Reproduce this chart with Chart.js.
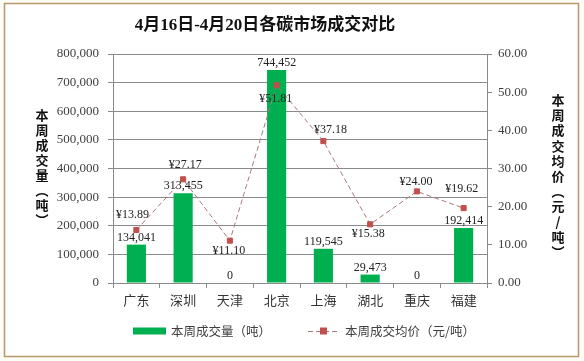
<!DOCTYPE html>
<html>
<head>
<meta charset="utf-8">
<script src="https://cdn.jsdelivr.net/npm/chart.js@4/dist/chart.umd.min.js"></script>
<style>
html,body{margin:0;padding:0;background:#fff;}
#wrap{width:584px;height:361px;position:relative;}
</style>
</head>
<body>
<div id="wrap"><canvas id="c" width="584" height="361"></canvas></div>
<script>
const titleText = '4月16日-4月20日各碳市场成交对比';
const categories = ['广东','深圳','天津','北京','上海','湖北','重庆','福建'];
const volumeLabel = '本周成交量（吨）';
const priceLabel = '本周成交均价（元/吨）';
const volumeValues = [134041, 313455, 0, 744452, 119545, 29473, 0, 192414];
const priceValues = [13.89, 27.17, 11.10, 51.81, 37.18, 15.38, 24.00, 19.62];
const leftAxisTitleChars = ['本','周','成','交','量','︵','吨','︶'];
const rightAxisTitleChars = ['本','周','成','交','均','价','︵','元','/','吨','︶'];

const SERIF = '"Liberation Serif", "Noto Sans CJK SC", serif';
const SANS = '"Noto Sans CJK SC", sans-serif';
const BAR_COLOR = '#00b050';
const LINE_COLOR = '#a87a7a';
const MARKER_COLOR = '#c0504d';
const GRID_COLOR = '#8a8a8a';
const TEXT_COLOR = '#404040';

const decorPlugin = {
  id: 'decor',
  beforeDraw(chart) {
    const ctx = chart.ctx;
    ctx.save();
    ctx.fillStyle = '#fffdf8';
    ctx.fillRect(0, 0, chart.width, chart.height);
    ctx.fillStyle = '#ffffff';
    ctx.fillRect(5, 4, 573, 352);
    ctx.strokeStyle = '#b5996b';
    ctx.lineWidth = 1.5;
    ctx.strokeRect(4.5, 3.5, 574, 353);
    ctx.restore();
  },
  afterDraw(chart, args, opts) {
    const ctx = chart.ctx;
    ctx.save();
    // title
    ctx.fillStyle = '#111';
    ctx.font = 'bold 17px ' + SERIF;
    ctx.textAlign = 'center';
    ctx.textBaseline = 'middle';
    ctx.fillText(titleText, 265, 26);

    // axis titles (vertical stacked)
    ctx.font = 'bold 13px ' + SANS;
    ctx.fillStyle = '#111';
    leftAxisTitleChars.forEach((ch, i) => ctx.fillText(ch, 42, 115 + i * 15));
    rightAxisTitleChars.forEach((ch, i) => ctx.fillText(ch, 558, 100 + i * 15.2));

    // bar labels
    ctx.font = '12px ' + SERIF;
    ctx.fillStyle = '#222';
    const barMeta = chart.getDatasetMeta(0);
    barMeta.data.forEach((el, i) => {
      ctx.fillText(volumeValues[i].toLocaleString('en-US'), el.x, el.y - 7);
    });
    // line labels
    const lineMeta = chart.getDatasetMeta(1);
    lineMeta.data.forEach((el, i) => {
      const o = opts.lineLabelOffsets[i];
      ctx.fillText('¥' + priceValues[i].toFixed(2), el.x + o[0], el.y + o[1]);
    });

    // legend
    const ly = 331;
    ctx.fillStyle = BAR_COLOR;
    ctx.fillRect(133, ly - 3.5, 33, 7);
    ctx.fillStyle = TEXT_COLOR;
    ctx.font = '12.5px ' + SANS;
    ctx.textAlign = 'left';
    ctx.fillText(volumeLabel, 171, ly);
    ctx.strokeStyle = LINE_COLOR;
    ctx.lineWidth = 1;
    ctx.setLineDash([5, 3]);
    ctx.beginPath();
    ctx.moveTo(308, ly + 0.5);
    ctx.lineTo(339, ly + 0.5);
    ctx.stroke();
    ctx.setLineDash([]);
    ctx.fillStyle = MARKER_COLOR;
    ctx.fillRect(320, ly - 3.5, 7, 7);
    ctx.fillStyle = TEXT_COLOR;
    ctx.fillText(priceLabel, 345, ly);
    ctx.restore();
  }
};

new Chart(document.getElementById('c'), {
  type: 'bar',
  data: {
    labels: categories,
    datasets: [
      {
        type: 'bar',
        label: volumeLabel,
        data: volumeValues,
        backgroundColor: BAR_COLOR,
        yAxisID: 'y',
        order: 1,
        categoryPercentage: 1,
        barPercentage: 0.41
      },
      {
        type: 'line',
        label: priceLabel,
        data: priceValues,
        yAxisID: 'y1',
        order: 0,
        borderColor: LINE_COLOR,
        borderWidth: 1,
        borderDash: [5, 3],
        pointStyle: 'rect',
        pointRadius: 3.6,
        pointBackgroundColor: MARKER_COLOR,
        pointBorderColor: MARKER_COLOR,
        tension: 0,
        fill: false
      }
    ]
  },
  options: {
    responsive: false,
    animation: false,
    events: [],
    layout: { padding: { top: 54, left: 0, right: 0, bottom: 0 } },
    plugins: {
      legend: { display: false },
      title: { display: false },
      tooltip: { enabled: false },
      decor: {
        lineLabelOffsets: [[-4,-15],[2,-14],[-1,10],[-1,14],[7,-11],[-2,10],[-1,-10],[-2,-19]]
      }
    },
    scales: {
      x: {
        offset: true,
        grid: { offset: true, drawOnChartArea: false, drawTicks: true, tickLength: 5, color: GRID_COLOR },
        border: { color: GRID_COLOR },
        ticks: { font: { family: SANS, size: 13 }, color: '#333', padding: 4, maxRotation: 0 },
        afterFit(s) { s.height = 78; }
      },
      y: {
        position: 'left',
        min: 0, max: 800000,
        ticks: {
          stepSize: 100000,
          font: { family: SERIF, size: 13 },
          color: TEXT_COLOR,
          padding: 9,
          callback: v => v.toLocaleString('en-US')
        },
        grid: { color: GRID_COLOR, tickLength: 5 },
        border: { color: GRID_COLOR },
        afterFit(s) { s.width = 113; }
      },
      y1: {
        position: 'right',
        min: 0, max: 60,
        ticks: {
          stepSize: 10,
          font: { family: SERIF, size: 13 },
          color: TEXT_COLOR,
          padding: 6,
          callback: v => Number(v).toFixed(2)
        },
        grid: { drawOnChartArea: false, color: GRID_COLOR, tickLength: 5 },
        border: { color: GRID_COLOR },
        afterFit(s) { s.width = 97; }
      }
    }
  },
  plugins: [decorPlugin]
});
</script>
</body>
</html>
